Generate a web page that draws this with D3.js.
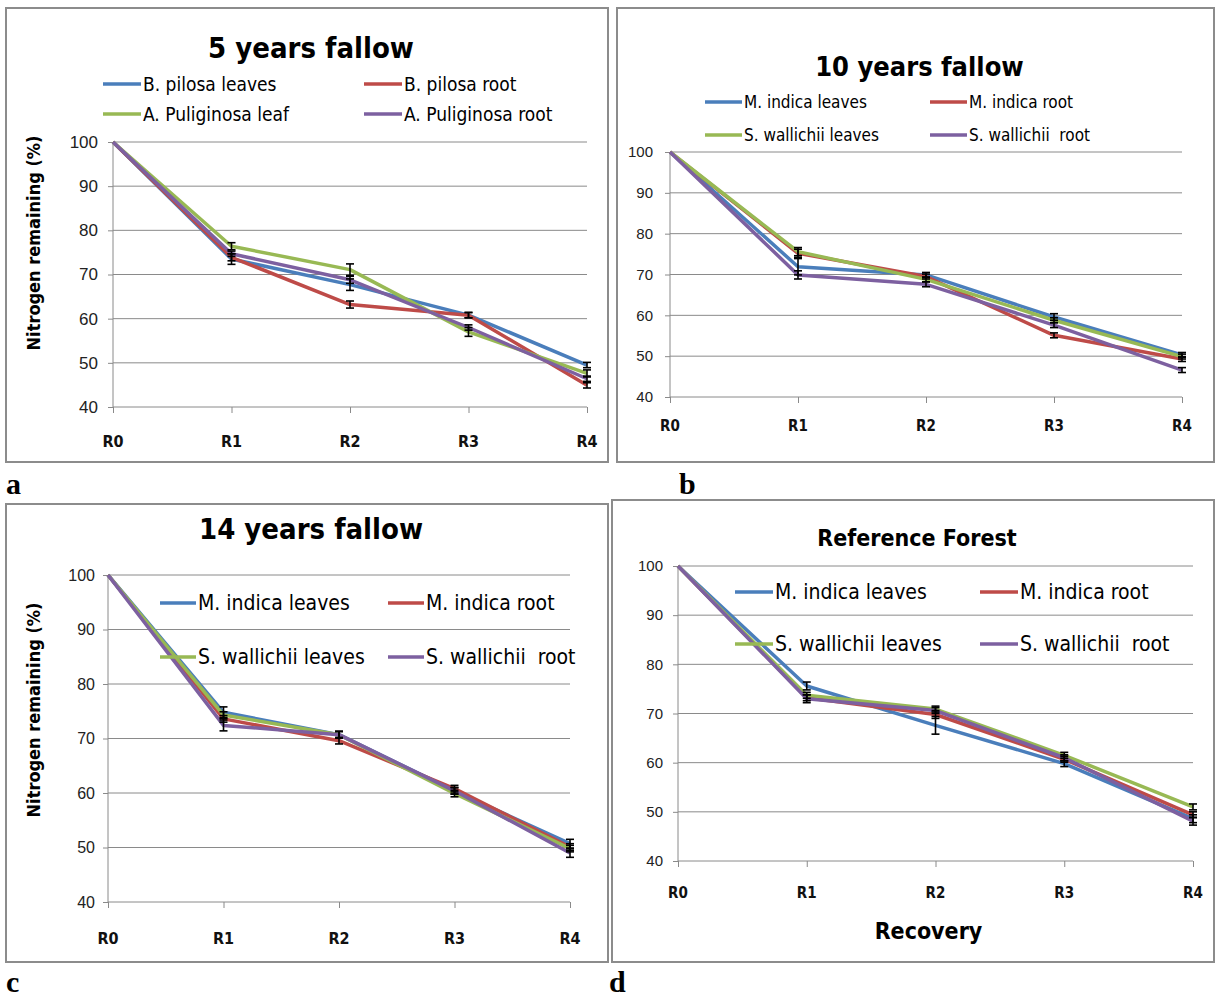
<!DOCTYPE html>
<html>
<head>
<meta charset="utf-8">
<script src="https://cdn.jsdelivr.net/npm/d3@7"></script>
<style>
  body { margin: 0; background: #fff; }
  svg { display: block; font-family: "Liberation Sans Narrow", "DejaVu Sans Condensed", "Open Sans", sans-serif; }
</style>
</head>
<body>
<svg width="1216" height="997"></svg>
<script>
let categories = [ 'R0', 'R1', 'R2', 'R3', 'R4' ]
let yTicks = [ 40, 50, 60, 70, 80, 90, 100 ]
let colors = [ '#4a7ebb', '#be4b48', '#98b954', '#7d60a0' ]

// panel a : 5 years fallow
let namesA = [ 'B. pilosa leaves', 'B. pilosa root', 'A. Puliginosa leaf', 'A. Puliginosa root' ]
let valuesA = [
  [ 100, 73.5, 67.7, 60.8, 49.5 ],
  [ 100, 73.9, 63.2, 60.8, 44.9 ],
  [ 100, 76.4, 71.1, 57.0, 47.6 ],
  [ 100, 74.7, 68.8, 58.0, 46.4 ]
]
let errorsA = [
  [ 0, 1.2, 1.3, 0.6, 0.6 ],
  [ 0, 0.8, 0.8, 0.6, 0.6 ],
  [ 0, 0.8, 1.3, 1.0, 0.8 ],
  [ 0, 0.6, 0.8, 0.6, 0.6 ]
]

// panel b : 10 years fallow
let namesB = [ 'M. indica leaves', 'M. indica root', 'S. wallichii leaves', 'S. wallichii  root' ]
let valuesB = [
  [ 100, 71.9, 69.9, 59.6, 50.3 ],
  [ 100, 75.2, 69.5, 55.1, 49.3 ],
  [ 100, 75.6, 68.8, 58.8, 49.9 ],
  [ 100, 69.9, 67.6, 57.6, 46.6 ]
]
let errorsB = [
  [ 0, 2.0, 0.6, 0.8, 0.6 ],
  [ 0, 1.0, 0.6, 0.6, 0.6 ],
  [ 0, 1.0, 0.6, 0.6, 0.6 ],
  [ 0, 1.0, 0.6, 0.6, 0.6 ]
]

// panel c : 14 years fallow
let namesC = [ 'M. indica leaves', 'M. indica root', 'S. wallichii leaves', 'S. wallichii  root' ]
let valuesC = [
  [ 100, 74.8, 70.7, 60.4, 50.7 ],
  [ 100, 73.6, 69.6, 60.8, 50.1 ],
  [ 100, 74.3, 70.7, 59.9, 49.8 ],
  [ 100, 72.4, 70.7, 60.4, 49.0 ]
]
let errorsC = [
  [ 0, 1.0, 0.6, 0.6, 0.8 ],
  [ 0, 0.6, 0.6, 0.6, 0.6 ],
  [ 0, 0.6, 0.6, 0.6, 0.6 ],
  [ 0, 1.0, 0.6, 0.6, 0.8 ]
]

// panel d : reference forest
let namesD = [ 'M. indica leaves', 'M. indica root', 'S. wallichii leaves', 'S. wallichii  root' ]
let valuesD = [
  [ 100, 75.6, 67.6, 59.8, 48.6 ],
  [ 100, 73.2, 69.8, 60.7, 49.4 ],
  [ 100, 73.7, 70.9, 61.5, 51.0 ],
  [ 100, 73.0, 70.6, 61.0, 48.1 ]
]
let errorsD = [
  [ 0, 0.8, 1.8, 0.6, 0.8 ],
  [ 0, 0.6, 0.8, 0.6, 0.6 ],
  [ 0, 0.6, 0.6, 0.6, 0.6 ],
  [ 0, 0.8, 0.6, 0.6, 0.8 ]
]

let panels = [
  {
    names: namesA, values: valuesA, errors: errorsA,
    frame: [ 6, 8, 602, 454 ], plot: [ 113, 142, 587, 407 ],
    title: '5 years fallow', titleY: 58, titleSize: 29,
    tickSize: 17, tickPad: 10, xLabSize: 16, xLabY: 447,
    yTitle: true, yTitleX: 40, yTitleY: 243,
    legend: { x1: 103, x2: 364, y1: 84, y2: 114, line: 38, size: 19 },
    tag: 'a', tagX: 6, tagY: 494
  },
  {
    names: namesB, values: valuesB, errors: errorsB,
    frame: [ 617, 8, 597, 454 ], plot: [ 670, 152, 1182, 397 ],
    title: '10 years fallow', titleY: 76, titleSize: 27,
    tickSize: 15, tickPad: 12, xLabSize: 15, xLabY: 431,
    yTitle: false,
    legend: { x1: 705, x2: 930, y1: 102, y2: 135, line: 37, size: 17 },
    tag: 'b', tagX: 679, tagY: 494
  },
  {
    names: namesC, values: valuesC, errors: errorsC,
    frame: [ 6, 504, 602, 458 ], plot: [ 108, 575, 570, 902 ],
    title: '14 years fallow', titleY: 539, titleSize: 29,
    tickSize: 16, tickPad: 8, xLabSize: 16, xLabY: 944,
    yTitle: true, yTitleX: 40, yTitleY: 710,
    legend: { x1: 160, x2: 388, y1: 603, y2: 657, line: 36, size: 21 },
    tag: 'c', tagX: 6, tagY: 992
  },
  {
    names: namesD, values: valuesD, errors: errorsD,
    frame: [ 612, 500, 602, 462 ], plot: [ 678, 566, 1193, 861 ],
    title: 'Reference Forest', titleY: 546, titleSize: 23,
    tickSize: 15, tickPad: 10, xLabSize: 15, xLabY: 898,
    yTitle: false, xTitle: 'Recovery', xTitleY: 939,
    legend: { x1: 735, x2: 980, y1: 592, y2: 644, line: 38, size: 21 },
    tag: 'd', tagX: 609, tagY: 992
  }
]

let svg = d3.select( 'svg' )

panels.forEach( p => {
  let g = svg.append( 'g' )

  g.append( 'rect' )
    .attr( 'x', p.frame[ 0 ] )
    .attr( 'y', p.frame[ 1 ] )
    .attr( 'width', p.frame[ 2 ] )
    .attr( 'height', p.frame[ 3 ] )
    .attr( 'fill', '#fff' )
    .attr( 'stroke', '#8c8c8c' )
    .attr( 'stroke-width', 2 )

  const xScale =
  d3.scalePoint()
    .domain( categories )
    .range( [ p.plot[ 0 ], p.plot[ 2 ] ] )

  const yScale =
  d3.scaleLinear()
    .domain( [ 40, 100 ] )
    .range( [ p.plot[ 3 ], p.plot[ 1 ] ] )

  // grid
  g.selectAll( '.grid' )
    .data( yTicks.slice( 1 ) )
    .enter()
    .append( 'line' )
    .attr( 'x1', p.plot[ 0 ] )
    .attr( 'x2', p.plot[ 2 ] )
    .attr( 'y1', d => yScale( d ) )
    .attr( 'y2', d => yScale( d ) )
    .attr( 'stroke', '#8a8a8a' )
    .attr( 'stroke-width', 1 )

  let yAxis =
  g.append( 'g' )
    .attr( 'transform', `translate(${ p.plot[ 0 ] },0)` )
    .call( d3.axisLeft( yScale ).tickValues( yTicks ).tickSize( 5 ).tickPadding( p.tickPad ) )
  yAxis.selectAll( 'line' ).attr( 'stroke', '#8a8a8a' )
  yAxis.select( 'path' ).remove()
  yAxis.selectAll( 'text' )
    .attr( 'font-size', p.tickSize )
    .attr( 'font-family', 'inherit' )
    .attr( 'fill', '#222' )

  g.append( 'line' )
    .attr( 'x1', p.plot[ 0 ] )
    .attr( 'x2', p.plot[ 0 ] )
    .attr( 'y1', p.plot[ 1 ] )
    .attr( 'y2', p.plot[ 3 ] )
    .attr( 'stroke', '#8a8a8a' )

  let xAxis =
  g.append( 'g' )
    .attr( 'transform', `translate(0,${ p.plot[ 3 ] })` )
    .call( d3.axisBottom( xScale ).tickSize( 6 ).tickFormat( '' ) )
  xAxis.selectAll( 'line, path' ).attr( 'stroke', '#8a8a8a' )
  xAxis.select( 'path' ).attr( 'd', `M${ p.plot[ 0 ] },0H${ p.plot[ 2 ] }` )

  g.selectAll( '.xlab' )
    .data( categories )
    .enter()
    .append( 'text' )
    .text( d => d )
    .attr( 'x', d => xScale( d ) )
    .attr( 'y', p.xLabY )
    .attr( 'text-anchor', 'middle' )
    .attr( 'font-weight', 'bold' )
    .attr( 'font-size', p.xLabSize )
    .attr( 'fill', '#111' )

  // title
  g.append( 'text' )
    .text( p.title )
    .attr( 'x', p.frame[ 0 ] + p.frame[ 2 ] / 2 + 4 )
    .attr( 'y', p.titleY )
    .attr( 'text-anchor', 'middle' )
    .attr( 'font-weight', 'bold' )
    .attr( 'font-size', p.titleSize )
    .attr( 'fill', '#000' )

  if ( p.yTitle ) {
    g.append( 'text' )
      .text( 'Nitrogen remaining (%)' )
      .attr( 'transform', `translate(${ p.yTitleX },${ p.yTitleY }) rotate(-90)` )
      .attr( 'text-anchor', 'middle' )
      .attr( 'font-weight', 'bold' )
      .attr( 'font-size', 18 )
      .attr( 'fill', '#000' )
  }

  if ( p.xTitle ) {
    g.append( 'text' )
      .text( p.xTitle )
      .attr( 'x', ( p.plot[ 0 ] + p.plot[ 2 ] ) / 2 - 7 )
      .attr( 'y', p.xTitleY )
      .attr( 'text-anchor', 'middle' )
      .attr( 'font-weight', 'bold' )
      .attr( 'font-size', 23 )
      .attr( 'fill', '#000' )
  }

  // series
  const line =
  d3.line()
    .x( ( d, i ) => xScale( categories[ i ] ) )
    .y( d => yScale( d ) )

  p.values.forEach( ( vals, s ) => {
    g.append( 'path' )
      .attr( 'd', line( vals ) )
      .attr( 'fill', 'none' )
      .attr( 'stroke', colors[ s ] )
      .attr( 'stroke-width', 3.5 )
      .attr( 'stroke-linejoin', 'round' )
  } )

  // error bars
  p.values.forEach( ( vals, s ) => {
    let pts = vals.map( ( v, i ) => ( { c: categories[ i ], v: v, e: p.errors[ s ][ i ] } ) )
      .filter( d => d.e > 0 )
    let eb =
    g.selectAll( null )
      .data( pts )
      .enter()
      .append( 'g' )
      .attr( 'stroke', '#000' )
      .attr( 'stroke-width', 1.6 )
    eb.append( 'line' )
      .attr( 'x1', d => xScale( d.c ) )
      .attr( 'x2', d => xScale( d.c ) )
      .attr( 'y1', d => yScale( d.v - d.e ) )
      .attr( 'y2', d => yScale( d.v + d.e ) )
    eb.append( 'line' )
      .attr( 'x1', d => xScale( d.c ) - 4 )
      .attr( 'x2', d => xScale( d.c ) + 4 )
      .attr( 'y1', d => yScale( d.v - d.e ) )
      .attr( 'y2', d => yScale( d.v - d.e ) )
    eb.append( 'line' )
      .attr( 'x1', d => xScale( d.c ) - 4 )
      .attr( 'x2', d => xScale( d.c ) + 4 )
      .attr( 'y1', d => yScale( d.v + d.e ) )
      .attr( 'y2', d => yScale( d.v + d.e ) )
  } )

  // legend
  let L = p.legend
  let spots = [ [ L.x1, L.y1 ], [ L.x2, L.y1 ], [ L.x1, L.y2 ], [ L.x2, L.y2 ] ]
  p.names.forEach( ( n, s ) => {
    let [ lx, ly ] = spots[ s ]
    g.append( 'line' )
      .attr( 'x1', lx )
      .attr( 'x2', lx + L.line )
      .attr( 'y1', ly )
      .attr( 'y2', ly )
      .attr( 'stroke', colors[ s ] )
      .attr( 'stroke-width', 3.5 )
    g.append( 'text' )
      .text( n )
      .attr( 'x', lx + L.line + 2 )
      .attr( 'y', ly )
      .attr( 'dominant-baseline', 'central' )
      .attr( 'font-size', L.size )
      .attr( 'fill', '#000' )
      .style( 'white-space', 'pre' )
  } )

  svg.append( 'text' )
    .text( p.tag )
    .attr( 'x', p.tagX )
    .attr( 'y', p.tagY )
    .attr( 'font-family', '"Liberation Serif", serif' )
    .attr( 'font-weight', 'bold' )
    .attr( 'font-size', 30 )
    .attr( 'fill', '#000' )
} )
</script>
</body>
</html>
